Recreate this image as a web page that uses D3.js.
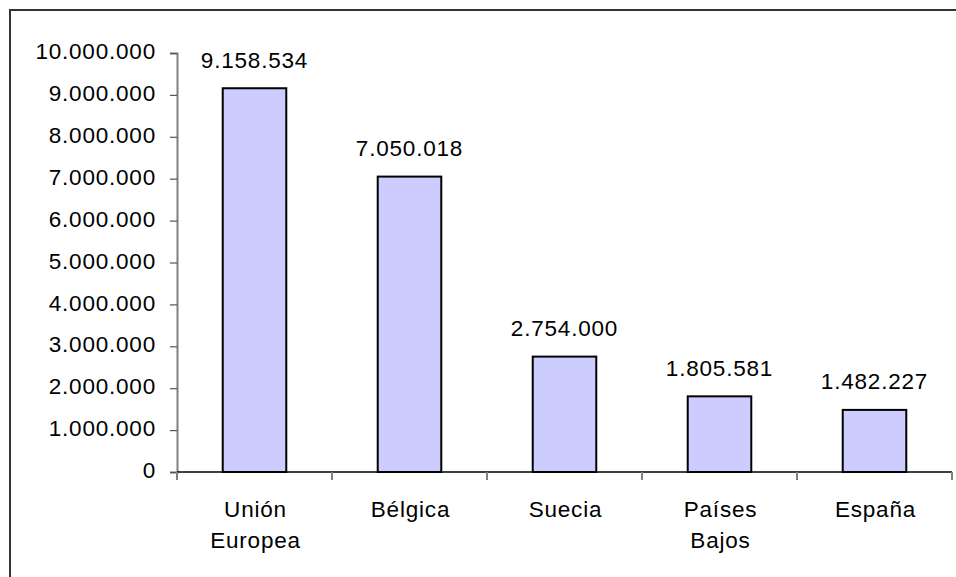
<!DOCTYPE html>
<html>
<head>
<meta charset="utf-8">
<script src="https://cdn.jsdelivr.net/npm/d3@7"></script>
<style>
  html, body { margin: 0; padding: 0; background: #fff; }
  svg { display: block; }
  text { font-family: "Liberation Sans", Arial, sans-serif; fill: #000; }
</style>
</head>
<body>
<script>
const categories = ["Unión Europea", "Bélgica", "Suecia", "Países Bajos", "España"];
const values = [9158534, 7050018, 2754000, 1805581, 1482227];
const yTicks = [0, 1000000, 2000000, 3000000, 4000000, 5000000, 6000000, 7000000, 8000000, 9000000, 10000000];

(function () {
const W = 956, H = 577;
const mLeft = 177, mRight = 952, mTop = 53, mBottom = 472;
const FS = 22.5, LS = "0.8px";

const locale = d3.formatLocale({decimal: ",", thousands: ".", grouping: [3], currency: ["", "€"]});
const fmt = locale.format(",d");

const svg = d3.select("body").append("svg").attr("width", W).attr("height", H);

// outer frame
svg.append("rect").attr("x", 10).attr("y", 10).attr("width", 960).attr("height", 600)
  .attr("fill", "none").attr("stroke", "#333").attr("stroke-width", 2);

const x = d3.scaleBand().domain(categories).range([mLeft, mRight]).padding(0);
const y = d3.scaleLinear().domain([0, 10000000]).range([mBottom, mTop]);
const bw = x.bandwidth() * 0.41;

// y axis
const yAxis = svg.append("g").attr("transform", `translate(${mLeft},0)`)
  .call(d3.axisLeft(y).tickValues(yTicks).tickFormat(fmt).tickSize(7).tickPadding(14));
yAxis.select(".domain").attr("stroke", "#808080").attr("stroke-width", 2);
yAxis.selectAll(".tick line").attr("stroke", "#555").attr("stroke-width", 1.2);
yAxis.selectAll(".tick text")
  .attr("font-size", FS).attr("dy", "0.25em")
  .style("letter-spacing", LS)
  .attr("font-family", "'Liberation Sans', Arial, sans-serif")
  .attr("fill", "#000");

// bars
svg.append("g").selectAll("rect").data(values).join("rect")
  .attr("x", (d, i) => x(categories[i]) + (x.bandwidth() - bw) / 2)
  .attr("y", d => y(d))
  .attr("width", bw)
  .attr("height", d => y(0) - y(d))
  .attr("fill", "#CCCCFF")
  .attr("stroke", "#000")
  .attr("stroke-width", 2);

// x axis
const xAxisG = svg.append("g").attr("transform", `translate(0,${mBottom})`);
xAxisG.append("line").attr("x1", mLeft).attr("x2", mRight).attr("y1", 0).attr("y2", 0)
  .attr("stroke", "#000").attr("stroke-width", 1.5);
const tickPos = categories.map(c => x(c)).concat([x(categories[categories.length - 1]) + x.bandwidth()]);
xAxisG.selectAll("line.tk").data(tickPos).join("line").attr("class", "tk")
  .attr("x1", d => d).attr("x2", d => d).attr("y1", 0).attr("y2", 8)
  .attr("stroke", "#808080").attr("stroke-width", 2);

// category labels
const catG = svg.append("g");
categories.forEach(c => {
  const cx = x(c) + x.bandwidth() / 2 + 1;
  const t = catG.append("text")
    .attr("x", cx)
    .attr("y", mBottom + 45)
    .attr("text-anchor", "middle")
    .attr("font-size", FS)
    .style("letter-spacing", LS);
  c.split(" ").forEach((w, j) => {
    t.append("tspan").attr("x", cx).attr("dy", j === 0 ? 0 : 30.5).text(w);
  });
});

// value labels
svg.append("g").selectAll("text").data(values).join("text")
  .attr("x", (d, i) => x(categories[i]) + x.bandwidth() / 2)
  .attr("y", d => y(d) - 20.5)
  .attr("text-anchor", "middle")
  .attr("font-size", FS)
  .style("letter-spacing", LS)
  .text(d => fmt(d));
})();
</script>
</body>
</html>
